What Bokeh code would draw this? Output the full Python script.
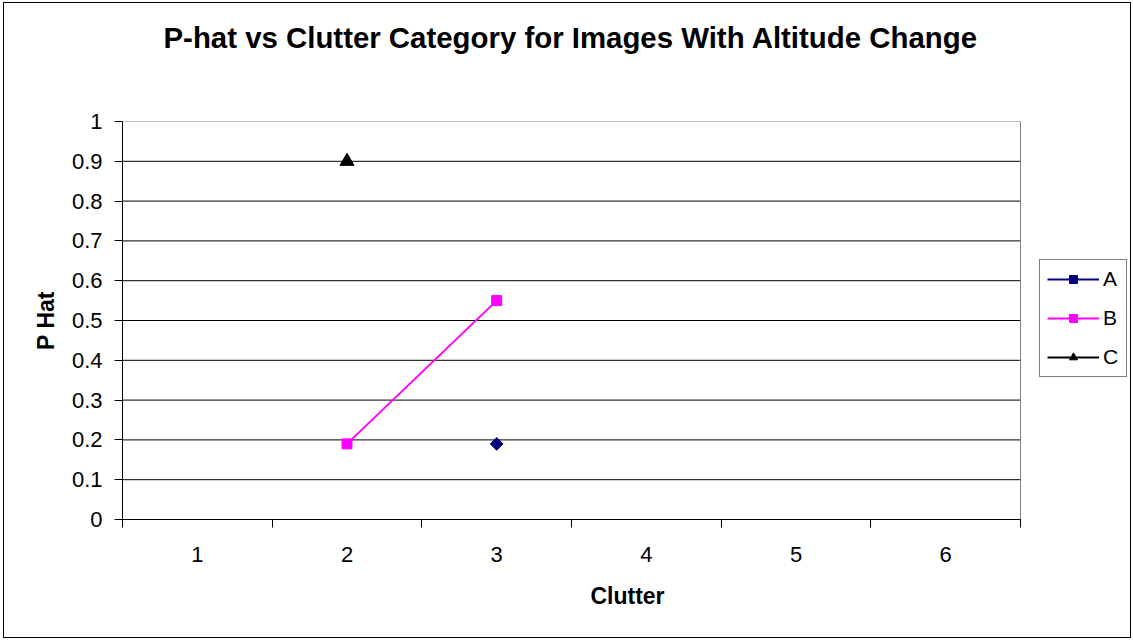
import math
from bokeh.plotting import figure
from bokeh.models import FixedTicker, Legend, LegendItem, Range1d, Title
from bokeh.embed import file_html
from bokeh.resources import INLINE

# ---- data ----
categories = [1, 2, 3, 4, 5, 6]
category_labels = ["1", "2", "3", "4", "5", "6"]

series_names = ["A", "B", "C"]
a_x = [3]
a_y = [0.19]
b_x = [2, 3]
b_y = [0.19, 0.55]
c_x = [2]
c_y = [0.9]

y_ticks = [0, 0.1, 0.2, 0.3, 0.4, 0.5, 0.6, 0.7, 0.8, 0.9, 1]
y_tick_labels = ["0", "0.1", "0.2", "0.3", "0.4", "0.5", "0.6", "0.7", "0.8", "0.9", "1"]

title_text = "P-hat vs Clutter Category for Images With Altitude Change"
x_title = "Clutter"
y_title = "P Hat"

FONT = "Liberation Sans"

# ---- layout (pixels) ----
W, H = 1128, 636
LEFT, TOP, BOTTOM = 118, 118, 120
PLOT_W = 898                       # width of the category area
FRAME_W = W - LEFT                 # frame runs to the right edge (room for legend)

x_lo = categories[0] - 0.5
x_hi = categories[-1] + 0.5
x_end = x_lo + (x_hi - x_lo) * FRAME_W / PLOT_W

p = figure(width=W, height=H, output_backend="svg", toolbar_location=None,
           x_range=Range1d(x_lo, x_end),
           y_range=Range1d(y_ticks[0], y_ticks[-1]),
           min_border_left=LEFT, min_border_right=0,
           min_border_top=TOP, min_border_bottom=BOTTOM)
p.styles = {"border": "1px solid black", "margin-left": "3px", "margin-top": "2px"}
p.background_fill_color = "white"
p.border_fill_color = "white"
p.outline_line_color = None

# spacer between title and plot area, then the title itself (outermost)
p.add_layout(Title(text=" ", text_font_size="10px", standoff=50), "above")
p.title.text = title_text
p.title.align = "left"
p.title.offset = 41
p.title.standoff = 10
p.title.text_font = FONT
p.title.text_font_size = "29.4px"
p.title.text_font_style = "bold"
p.title.text_color = "black"

# grid lines (only across the category area) and plot-area border
n = len(y_ticks) - 1
p.segment(x0=[x_lo] * n, y0=y_ticks[:-1], x1=[x_hi] * n, y1=y_ticks[:-1],
          line_color="black", line_width=1)
p.segment(x0=[x_lo, x_hi], y0=[y_ticks[-1], y_ticks[0]],
          x1=[x_hi, x_hi], y1=[y_ticks[-1], y_ticks[-1]],
          line_color="#808080", line_width=1)
p.xgrid.visible = False
p.ygrid.visible = False

# x axis
boundaries = [c - 0.5 for c in categories] + [categories[-1] + 0.5]
p.xaxis.bounds = (x_lo, x_hi)
p.xaxis.ticker = FixedTicker(ticks=categories, minor_ticks=boundaries)
p.xaxis.major_label_overrides = {c: l for c, l in zip(categories, category_labels)}
p.xaxis.major_tick_line_color = None
p.xaxis.minor_tick_line_color = "black"
p.xaxis.minor_tick_in = 0
p.xaxis.minor_tick_out = 8
p.xaxis.axis_line_color = "black"
p.xaxis.major_label_text_font = FONT
p.xaxis.major_label_text_font_size = "22px"
p.xaxis.major_label_text_color = "black"
p.xaxis.major_label_standoff = 19
p.xaxis.axis_label = x_title
p.xaxis.axis_label_text_font = FONT
p.xaxis.axis_label_text_font_size = "23px"
p.xaxis.axis_label_text_font_style = "bold"
p.xaxis.axis_label_text_color = "black"
p.xaxis.axis_label_standoff = 18

# y axis
p.yaxis.ticker = FixedTicker(ticks=y_ticks, minor_ticks=[])
p.yaxis.major_label_overrides = {t: l for t, l in zip(y_ticks, y_tick_labels)}
p.yaxis.major_tick_line_color = "black"
p.yaxis.major_tick_in = 0
p.yaxis.major_tick_out = 8
p.yaxis.minor_tick_line_color = None
p.yaxis.axis_line_color = "black"
p.yaxis.major_label_text_font = FONT
p.yaxis.major_label_text_font_size = "22px"
p.yaxis.major_label_text_color = "black"
p.yaxis.major_label_standoff = 12
p.yaxis.axis_label = y_title
p.yaxis.axis_label_text_font = FONT
p.yaxis.axis_label_text_font_size = "23px"
p.yaxis.axis_label_text_font_style = "bold"
p.yaxis.axis_label_text_color = "black"
p.yaxis.axis_label_standoff = 10

# series
la = p.line(a_x, a_y, line_color="#000080", line_width=2)
sa = p.scatter(a_x, a_y, marker="square", size=9, angle=math.pi / 4,
               fill_color="#000080", line_color="#000080")
lb = p.line(b_x, b_y, line_color="#FF00FF", line_width=2)
sb = p.scatter(b_x, b_y, marker="square", size=10,
               fill_color="#FF00FF", line_color="#FF00FF")
lc = p.line(c_x, c_y, line_color="black", line_width=2)
sc = p.scatter(c_x, c_y, marker="triangle", size=14,
               fill_color="black", line_color="black")

legend = Legend(items=[
    LegendItem(label=series_names[0], renderers=[la, sa]),
    LegendItem(label=series_names[1], renderers=[lb, sb]),
    LegendItem(label=series_names[2], renderers=[lc, sc]),
], location=(PLOT_W + 19, 142))
legend.glyph_width = 52
legend.glyph_height = 20
legend.label_height = 20
legend.label_width = 16
legend.spacing = 15
legend.padding = 7
legend.margin = 0
legend.label_standoff = 4
legend.label_text_font = FONT
legend.label_text_font_size = "21px"
legend.label_text_color = "black"
legend.border_line_color = "black"
legend.border_line_width = 1
legend.background_fill_color = "white"
legend.background_fill_alpha = 1
p.add_layout(legend)

open("out.html", "w").write(file_html(p, INLINE))
